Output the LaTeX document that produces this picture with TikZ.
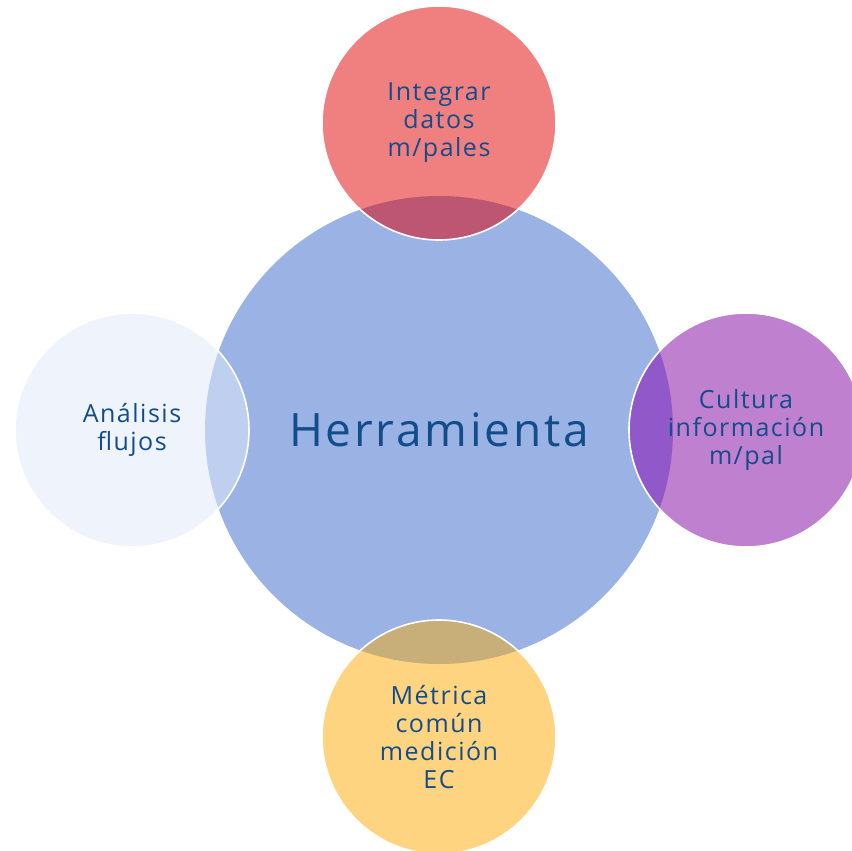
\documentclass[tikz,border=0pt]{standalone}
\usepackage{fontspec}
\setmainfont{Open Sans}[LetterSpace=6]
\usepackage{tikz}
\usepackage{xcolor}

\definecolor{hubblue}{RGB}{154,179,228}
\definecolor{toprose}{RGB}{240,128,128}
\definecolor{topmix}{RGB}{188,86,114}
\definecolor{rightlilac}{RGB}{192,128,208}
\definecolor{rightmix}{RGB}{144,88,200}
\definecolor{bottomgold}{RGB}{255,212,128}
\definecolor{bottommix}{RGB}{200,174,120}
\definecolor{leftpale}{RGB}{239,244,252}
\definecolor{leftmix}{RGB}{191,207,239}
\definecolor{textblue}{RGB}{18,76,138}

\begin{document}
\begin{tikzpicture}[node distance=307pt, auto]
    \tikzstyle{hub} = [circle, fill=hubblue, minimum size=468pt, inner sep=0pt]
    \tikzstyle{petal} = [circle, minimum size=234pt, inner sep=0pt]
    \tikzstyle{rim} = [draw=white, line width=1.6pt]
    \tikzstyle{caption} = [text=textblue, align=center, font=\fontsize{25}{28}\selectfont]

    \useasboundingbox (0pt,0pt) rectangle (851pt,-851pt);

    \node[hub] (tool) at (439pt,-430pt) {};
    \node[petal, fill=toprose, above of=tool] (merge) {};
    \node[petal, fill=rightlilac, right of=tool] (culture) {};
    \node[petal, fill=bottomgold, below of=tool] (metric) {};
    \node[petal, fill=leftpale, left of=tool] (flows) {};

    % overlaps with the hub
    \begin{scope}
        \clip (tool) circle (234pt);
        \fill[topmix] (merge) circle (117pt);
        \fill[rightmix] (culture) circle (117pt);
        \fill[bottommix] (metric) circle (117pt);
        \fill[leftmix] (flows) circle (117pt);
    \end{scope}

    \draw[rim] (merge) circle (117pt);
    \draw[rim] (culture) circle (117pt);
    \draw[rim] (metric) circle (117pt);
    \draw[rim] (flows) circle (117pt);

    \node[text=textblue, font=\fontsize{46}{50}\selectfont] (toolname) at (tool) {Herramienta};
    \node[caption] (mergename) at (merge) {Integrar\\datos\\m/pales};
    \node[caption] (culturename) at (culture) {Cultura\\información\\m/pal};
    \node[caption] (metricname) at (metric) {Métrica\\común\\medición\\EC};
    \node[caption] (flowsname) at (flows) {Análisis\\flujos};

\end{tikzpicture}
\end{document}
